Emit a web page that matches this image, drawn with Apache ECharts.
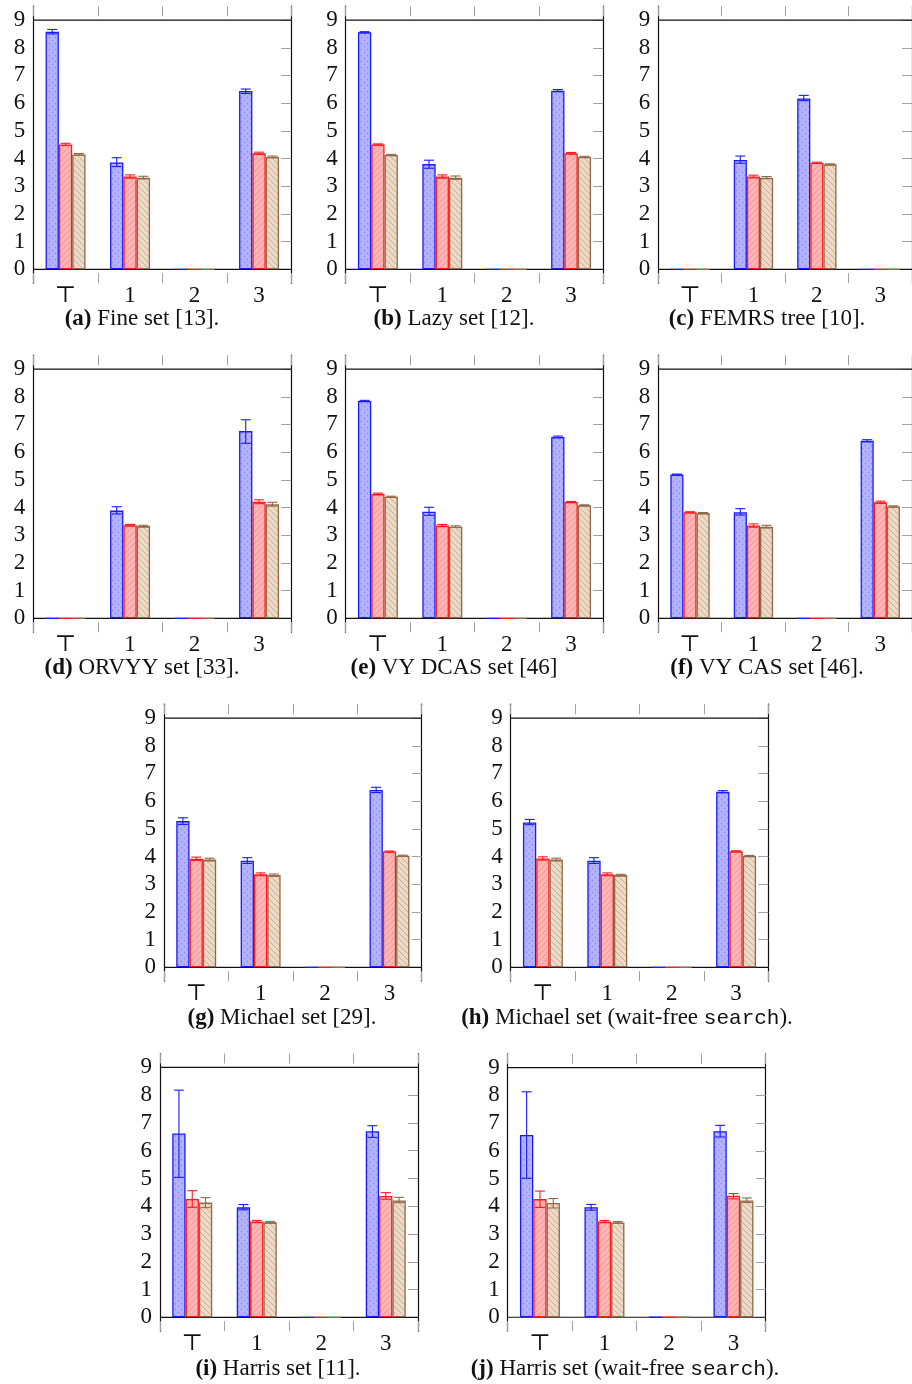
<!DOCTYPE html>
<html><head><meta charset="utf-8">
<script src="https://cdn.jsdelivr.net/npm/echarts@6/dist/echarts.min.js"></script>
<style>html,body{margin:0;padding:0;background:#fff}#c{width:912px;height:1384px}</style>
</head><body><div id="c"></div><script>
const categories = ['\u22A4', '1', '2', '3'];
const yTickValues = [0, 1, 2, 3, 4, 5, 6, 7, 8, 9];

// (a) Fine set
const aBlue = [8.58, 3.86, 0, 6.44];
const aRed = [4.51, 3.35, 0, 4.19];
const aTan = [4.15, 3.31, 0, 4.06];
const aBlueErr = [[8.50, 8.66], [3.71, 4.03], null, [6.35, 6.51]];
const aRedErr = [[4.47, 4.55], [3.29, 3.41], null, [4.15, 4.23]];
const aTanErr = [[4.12, 4.18], [3.26, 3.36], null, [4.03, 4.09]];
// (b) Lazy set
const bBlue = [8.56, 3.80, 0, 6.45];
const bRed = [4.51, 3.35, 0, 4.19];
const bTan = [4.13, 3.31, 0, 4.06];
const bBlueErr = [[8.54, 8.58], [3.65, 3.94], null, [6.41, 6.49]];
const bRedErr = [[4.49, 4.53], [3.29, 3.41], null, [4.16, 4.22]];
const bTanErr = [[4.11, 4.15], [3.25, 3.37], null, [4.04, 4.08]];
// (c) FEMRS tree
const cBlue = [0, 3.95, 6.17, 0];
const cRed = [0, 3.35, 3.85, 0];
const cTan = [0, 3.31, 3.79, 0];
const cBlueErr = [null, [3.83, 4.09], [6.09, 6.28], null];
const cRedErr = [null, [3.30, 3.40], [3.83, 3.87], null];
const cTanErr = [null, [3.27, 3.35], [3.77, 3.81], null];
// (d) ORVYY set
const dBlue = [0, 3.89, 0, 6.76];
const dRed = [0, 3.36, 0, 4.21];
const dTan = [0, 3.33, 0, 4.12];
const dBlueErr = [null, [3.77, 4.03], null, [6.32, 7.17]];
const dRedErr = [null, [3.33, 3.39], null, [4.14, 4.28]];
const dTanErr = [null, [3.30, 3.36], null, [4.05, 4.19]];
// (e) VY DCAS set
const eBlue = [7.85, 3.85, 0, 6.55];
const eRed = [4.49, 3.35, 0, 4.20];
const eTan = [4.39, 3.31, 0, 4.08];
const eBlueErr = [[7.83, 7.87], [3.72, 4.01], null, [6.52, 6.58]];
const eRedErr = [[4.46, 4.52], [3.31, 3.39], null, [4.18, 4.22]];
const eTanErr = [[4.37, 4.41], [3.28, 3.34], null, [4.06, 4.10]];
// (f) VY CAS set
const fBlue = [5.19, 3.83, 0, 6.41];
const fRed = [3.83, 3.35, 0, 4.19];
const fTan = [3.80, 3.31, 0, 4.04];
const fBlueErr = [[5.17, 5.21], [3.73, 3.96], null, [6.37, 6.45]];
const fRedErr = [[3.81, 3.85], [3.29, 3.41], null, [4.15, 4.23]];
const fTanErr = [[3.78, 3.82], [3.26, 3.36], null, [4.02, 4.06]];
// (g) Michael set
const gBlue = [5.28, 3.85, 0, 6.40];
const gRed = [3.92, 3.36, 0, 4.18];
const gTan = [3.89, 3.33, 0, 4.03];
const gBlueErr = [[5.16, 5.40], [3.75, 3.96], null, [6.31, 6.50]];
const gRedErr = [[3.86, 3.98], [3.31, 3.41], null, [4.16, 4.20]];
const gTanErr = [[3.84, 3.94], [3.29, 3.37], null, [4.01, 4.05]];
// (h) Michael set (wait-free search)
const hBlue = [5.23, 3.85, 0, 6.34];
const hRed = [3.93, 3.36, 0, 4.19];
const hTan = [3.89, 3.33, 0, 4.02];
const hBlueErr = [[5.15, 5.34], [3.75, 3.96], null, [6.30, 6.38]];
const hRedErr = [[3.87, 3.99], [3.31, 3.41], null, [4.17, 4.21]];
const hTanErr = [[3.84, 3.94], [3.30, 3.36], null, [4.00, 4.04]];
// (i) Harris set
const iBlue = [6.62, 3.96, 0, 6.70];
const iRed = [4.26, 3.45, 0, 4.37];
const iTan = [4.13, 3.42, 0, 4.21];
const iBlueErr = [[5.04, 8.18], [3.87, 4.06], null, [6.48, 6.90]];
const iRedErr = [[3.96, 4.56], [3.41, 3.49], null, [4.25, 4.49]];
const iTanErr = [[3.95, 4.31], [3.39, 3.45], null, [4.13, 4.32]];
// (j) Harris set (wait-free search)
const jBlue = [6.57, 3.97, 0, 6.71];
const jRed = [4.26, 3.45, 0, 4.38];
const jTan = [4.12, 3.42, 0, 4.21];
const jBlueErr = [[5.01, 8.13], [3.86, 4.07], null, [6.50, 6.92]];
const jRedErr = [[3.96, 4.55], [3.41, 3.49], null, [4.27, 4.46]];
const jTanErr = [[3.94, 4.28], [3.39, 3.45], null, [4.14, 4.30]];

const captionLetters = ['(a)', '(b)', '(c)', '(d)', '(e)', '(f)', '(g)', '(h)', '(i)', '(j)'];
const captionTexts = [
  'Fine set [13].', 'Lazy set [12].', 'FEMRS tree [10].',
  'ORVYY set [33].', 'VY DCAS set [46]', 'VY CAS set [46].',
  'Michael set [29].', 'Michael set (wait-free {tt|search}).',
  'Harris set [11].', 'Harris set (wait-free {tt|search}).'
];

const panelData = [
  [aBlue, aRed, aTan, aBlueErr, aRedErr, aTanErr],
  [bBlue, bRed, bTan, bBlueErr, bRedErr, bTanErr],
  [cBlue, cRed, cTan, cBlueErr, cRedErr, cTanErr],
  [dBlue, dRed, dTan, dBlueErr, dRedErr, dTanErr],
  [eBlue, eRed, eTan, eBlueErr, eRedErr, eTanErr],
  [fBlue, fRed, fTan, fBlueErr, fRedErr, fTanErr],
  [gBlue, gRed, gTan, gBlueErr, gRedErr, gTanErr],
  [hBlue, hRed, hTan, hBlueErr, hRedErr, hTanErr],
  [iBlue, iRed, iTan, iBlueErr, iRedErr, iTanErr],
  [jBlue, jRed, jTan, jBlueErr, jRedErr, jTanErr]
];

// layout (pixels)
const gridBoxes = [
  [33.3, 6.2, 258, 277], [345.7, 6.2, 257.6, 277], [658.3, 6.2, 258, 277],
  [33.3, 355.2, 258, 277], [345.7, 355.2, 257.6, 277], [658.3, 355.2, 258, 277],
  [164, 704.2, 257.7, 277], [510.7, 704.2, 257.6, 277],
  [160, 1053.5, 258, 277.7], [507.7, 1053.8, 258, 277.3]
];
const captionPos = [
  [142, 319], [454, 319], [767, 319],
  [142, 668], [454, 668], [767, 668],
  [282, 1018], [627, 1018],
  [278, 1369], [625, 1369]
];

const SERIF = "'Liberation Serif', 'DejaVu Serif', serif";
const GAP = 0.38;

function makePattern(fill, kind, ink) {
  const s = 6;
  const cv = document.createElement('canvas');
  cv.width = s; cv.height = s;
  const ctx = cv.getContext('2d');
  ctx.fillStyle = fill; ctx.fillRect(0, 0, s, s);
  ctx.strokeStyle = ink; ctx.fillStyle = ink; ctx.lineWidth = 0.8;
  if (kind === 'dots') {
    ctx.beginPath(); ctx.arc(1.5, 1.5, 0.9, 0, Math.PI * 2); ctx.fill();
    ctx.beginPath(); ctx.arc(4.5, 4.5, 0.9, 0, Math.PI * 2); ctx.fill();
  } else if (kind === 'ne') {
    ctx.beginPath();
    ctx.moveTo(0, s); ctx.lineTo(s, 0);
    ctx.moveTo(-1, 1); ctx.lineTo(1, -1);
    ctx.moveTo(s - 1, s + 1); ctx.lineTo(s + 1, s - 1);
    ctx.stroke();
  } else {
    ctx.beginPath();
    ctx.moveTo(0, 0); ctx.lineTo(s, s);
    ctx.moveTo(s - 1, -1); ctx.lineTo(s + 1, 1);
    ctx.moveTo(-1, s - 1); ctx.lineTo(1, s + 1);
    ctx.stroke();
  }
  return { image: cv, repeat: 'repeat' };
}

const seriesStyles = [
  { stroke: '#1a1aff', fill: makePattern('#b3b3ff', 'dots', '#9494e8') },
  { stroke: '#ff1a1a', fill: makePattern('#ffb3b3', 'ne', '#e39292') },
  { stroke: '#8f6a48', fill: makePattern('#ecd9c6', 'nw', '#bfa58c') }
];

const grids = [], xAxes = [], yAxes = [], series = [], graphics = [];
const tickColor = '#a0a0a0';

panelData.forEach((pd, p) => {
  const [l, t, w, h] = gridBoxes[p];
  grids.push({ left: l, top: t, width: w, height: h, containLabel: false });
  xAxes.push({
    type: 'category', gridIndex: p, data: categories, position: 'bottom',
    axisLine: { show: false, onZero: false },
    axisTick: { show: true, inside: true, length: 10, interval: 0, lineStyle: { color: tickColor, width: 1 } },
    axisLabel: { interval: 0, margin: 1, color: '#111', fontFamily: SERIF, fontSize: 23 },
    splitLine: { show: false }
  });
  xAxes.push({
    type: 'category', gridIndex: p, data: categories, position: 'top',
    axisLine: { show: false, onZero: false },
    axisTick: { show: true, inside: true, length: 10, interval: 0, lineStyle: { color: tickColor, width: 1 } },
    axisLabel: { show: false }, splitLine: { show: false }
  });
  yAxes.push({
    type: 'value', gridIndex: p, min: -0.5, max: 9.5, position: 'left',
    axisLine: { show: true, onZero: false, lineStyle: { color: '#111', width: 1.2 } },
    axisTick: { show: false },
    axisLabel: { customValues: yTickValues, margin: 8, color: '#111', fontFamily: SERIF, fontSize: 23 },
    splitLine: { show: false }
  });
  yAxes.push({
    type: 'value', gridIndex: p, min: -0.5, max: 9.5, position: 'right',
    axisLine: { show: true, onZero: false, lineStyle: { color: '#111', width: 1.2 } },
    axisTick: { show: true, inside: true, length: 10, customValues: yTickValues, lineStyle: { color: tickColor, width: 1 } },
    axisLabel: { show: false }, splitLine: { show: false }
  });
  const xi = 2 * p, yi = 2 * p;
  series.push({
    type: 'custom', xAxisIndex: xi, yAxisIndex: yi, z: 1, silent: true,
    data: [[0, 0], [0, 9]],
    renderItem: function (params, api) {
      const cs = params.coordSys;
      const y = api.coord([0, api.value(1)])[1];
      return { type: 'line', shape: { x1: cs.x, y1: y, x2: cs.x + cs.width, y2: y },
        style: { stroke: '#111', lineWidth: 1.2 } };
    }
  });
  for (let k = 0; k < 3; k++) {
    const st = seriesStyles[k];
    series.push({
      type: 'bar', xAxisIndex: xi, yAxisIndex: yi, z: 2,
      barGap: '0%', barCategoryGap: (GAP * 100) + '%',
      data: pd[k],
      itemStyle: { color: st.fill, borderColor: st.stroke, borderWidth: 1.3 },
      emphasis: { disabled: true }, silent: true
    });
  }
  for (let k = 0; k < 3; k++) {
    const st = seriesStyles[k];
    const errs = pd[3 + k];
    const data = [];
    errs.forEach((e, ci) => { if (e) data.push([ci, e[0], e[1]]); });
    series.push({
      type: 'custom', xAxisIndex: xi, yAxisIndex: yi, z: 3, silent: true,
      data: data,
      encode: { x: 0, y: [1, 2] },
      renderItem: (function (kk, color) {
        return function (params, api) {
          const ci = api.value(0);
          const cw = api.size([1, 0])[0];
          const bw = cw * (1 - GAP) / 3;
          const cx = api.coord([ci, 0])[0] + (kk - 1) * bw;
          const yl = api.coord([ci, api.value(1)])[1];
          const yh = api.coord([ci, api.value(2)])[1];
          const hw = 5;
          const ls = { stroke: color, lineWidth: 1.1 };
          return { type: 'group', children: [
            { type: 'line', shape: { x1: cx, y1: yl, x2: cx, y2: yh }, style: ls },
            { type: 'line', shape: { x1: cx - hw, y1: yh, x2: cx + hw, y2: yh }, style: ls },
            { type: 'line', shape: { x1: cx - hw, y1: yl, x2: cx + hw, y2: yl }, style: ls }
          ] };
        };
      })(k, st.stroke)
    });
  }
  const [cx, cy] = captionPos[p];
  graphics.push({
    type: 'text', x: cx, y: cy, silent: true,
    style: {
      text: '{b|' + captionLetters[p] + '} ' + captionTexts[p],
      x: 0, y: 0, align: 'center', verticalAlign: 'middle',
      fill: '#111', font: '23px ' + SERIF,
      rich: {
        b: { fontWeight: 'bold', fontSize: 23, fontFamily: SERIF, fill: '#111' },
        tt: { fontSize: 21, fontFamily: "'Liberation Mono', 'DejaVu Sans Mono', monospace", fill: '#111' }
      }
    }
  });
});

const chart = echarts.init(document.getElementById('c'), null, { renderer: 'canvas' });
chart.setOption({
  animation: false,
  backgroundColor: '#ffffff',
  grid: grids, xAxis: xAxes, yAxis: yAxes, series: series, graphic: graphics
});
</script></body></html>
